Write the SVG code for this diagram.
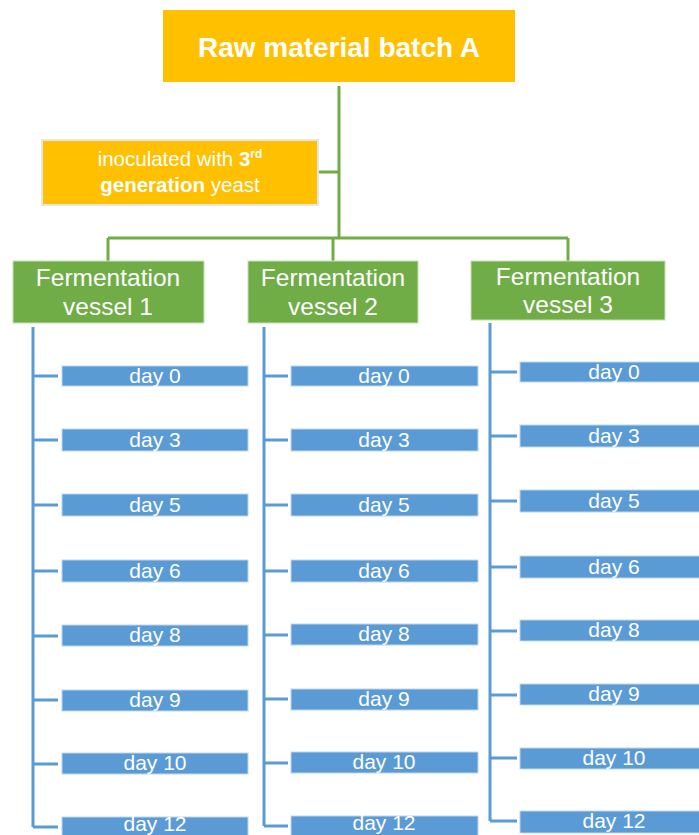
<svg xmlns="http://www.w3.org/2000/svg" width="699" height="835" viewBox="0 0 699 835">
<style>
.t{font-family:"Liberation Sans",Arial,sans-serif;fill:#fff;text-anchor:middle}
.title{font-size:28px;font-weight:bold}
.ino{font-size:20.5px}
.ves{font-size:24.5px}
.day{font-size:21px}
.orange{fill:#FFC000}
.green{fill:#70AD47;stroke:#C5E0B4;stroke-width:1}
.blue{fill:#5B9BD5;stroke:#BDD7EE;stroke-width:1}
.gline{fill:none;stroke:#70AD47;stroke-width:3}
.bline{fill:none;stroke:#5B9BD5;stroke-width:3}
</style>
<rect width="699" height="835" fill="#fff"/>
<g id="connectors">
<path class="gline" d="M339 86 V238 M108 238 H568 M108 238 V261 M333 238 V261 M568 238 V261 M319 172 H339"/>
<path class="bline" d="M33 327 V827 M33 376 H58 M33 440 H58 M33 505 H58 M33 571 H58 M33 636 H58 M33 700 H58 M33 764 H58 M33 827 H58"/>
<path class="bline" d="M264 327 V826 M264 376 H288 M264 440 H288 M264 505 H288 M264 571 H288 M264 635 H288 M264 699 H288 M264 763 H288 M264 826 H288"/>
<path class="bline" d="M490 323 V821 M490 372 H517 M490 436 H517 M490 501 H517 M490 567 H517 M490 631 H517 M490 695 H517 M490 758 H517 M490 821 H517"/>
</g>
<g id="raw">
<rect class="orange" x="163" y="10" width="352" height="72"/>
<text class="t title" x="339" y="57">Raw material batch A</text>
</g>
<g id="inoculated">
<rect class="orange" x="42" y="140" width="276" height="65" stroke="#E6E6E6" stroke-width="2"/>
<text class="t ino" x="180" y="166">inoculated with <tspan font-weight="bold">3</tspan><tspan font-weight="bold" font-size="12" dy="-8">rd</tspan></text>
<text class="t ino" x="180" y="192"><tspan font-weight="bold">generation</tspan> yeast</text>
</g>
<g id="vessel1">
<rect class="green" x="13" y="261" width="191" height="62"/>
<text class="t ves" x="108" y="286">Fermentation</text>
<text class="t ves" x="108" y="315">vessel 1</text>
</g>
<g id="vessel2">
<rect class="green" x="248" y="261" width="170" height="62"/>
<text class="t ves" x="333" y="286">Fermentation</text>
<text class="t ves" x="333" y="315">vessel 2</text>
</g>
<g id="vessel3">
<rect class="green" x="471" y="261" width="194" height="59"/>
<text class="t ves" x="568" y="285">Fermentation</text>
<text class="t ves" x="568" y="313">vessel 3</text>
</g>
<g id="v1d0"><rect class="blue" x="62" y="366" width="186" height="20"/><text class="t day" x="155" y="383">day 0</text></g>
<g id="v1d3"><rect class="blue" x="62" y="429" width="186" height="22"/><text class="t day" x="155" y="447">day 3</text></g>
<g id="v1d5"><rect class="blue" x="62" y="494" width="186" height="22"/><text class="t day" x="155" y="512">day 5</text></g>
<g id="v1d6"><rect class="blue" x="62" y="560" width="186" height="22"/><text class="t day" x="155" y="578">day 6</text></g>
<g id="v1d8"><rect class="blue" x="62" y="625" width="186" height="21"/><text class="t day" x="155" y="642">day 8</text></g>
<g id="v1d9"><rect class="blue" x="62" y="690" width="186" height="21"/><text class="t day" x="155" y="707">day 9</text></g>
<g id="v1d10"><rect class="blue" x="62" y="753" width="186" height="21"/><text class="t day" x="155" y="770">day 10</text></g>
<g id="v1d12"><rect class="blue" x="62" y="817" width="186" height="22"/><text class="t day" x="155" y="831">day 12</text></g>
<g id="v2d0"><rect class="blue" x="291" y="366" width="187" height="20"/><text class="t day" x="384" y="383">day 0</text></g>
<g id="v2d3"><rect class="blue" x="291" y="429" width="187" height="22"/><text class="t day" x="384" y="447">day 3</text></g>
<g id="v2d5"><rect class="blue" x="291" y="494" width="187" height="22"/><text class="t day" x="384" y="512">day 5</text></g>
<g id="v2d6"><rect class="blue" x="291" y="560" width="187" height="22"/><text class="t day" x="384" y="578">day 6</text></g>
<g id="v2d8"><rect class="blue" x="291" y="624" width="187" height="21"/><text class="t day" x="384" y="641">day 8</text></g>
<g id="v2d9"><rect class="blue" x="291" y="689" width="187" height="21"/><text class="t day" x="384" y="706">day 9</text></g>
<g id="v2d10"><rect class="blue" x="291" y="752" width="187" height="21"/><text class="t day" x="384" y="769">day 10</text></g>
<g id="v2d12"><rect class="blue" x="291" y="816" width="187" height="22"/><text class="t day" x="384" y="830">day 12</text></g>
<g id="v3d0"><rect class="blue" x="520" y="362" width="181" height="20"/><text class="t day" x="614" y="379">day 0</text></g>
<g id="v3d3"><rect class="blue" x="520" y="425" width="181" height="22"/><text class="t day" x="614" y="443">day 3</text></g>
<g id="v3d5"><rect class="blue" x="520" y="490" width="181" height="22"/><text class="t day" x="614" y="508">day 5</text></g>
<g id="v3d6"><rect class="blue" x="520" y="556" width="181" height="22"/><text class="t day" x="614" y="574">day 6</text></g>
<g id="v3d8"><rect class="blue" x="520" y="620" width="181" height="21"/><text class="t day" x="614" y="637">day 8</text></g>
<g id="v3d9"><rect class="blue" x="520" y="684" width="181" height="21"/><text class="t day" x="614" y="701">day 9</text></g>
<g id="v3d10"><rect class="blue" x="520" y="748" width="181" height="21"/><text class="t day" x="614" y="765">day 10</text></g>
<g id="v3d12"><rect class="blue" x="520" y="811" width="181" height="22"/><text class="t day" x="614" y="828">day 12</text></g>
</svg>
